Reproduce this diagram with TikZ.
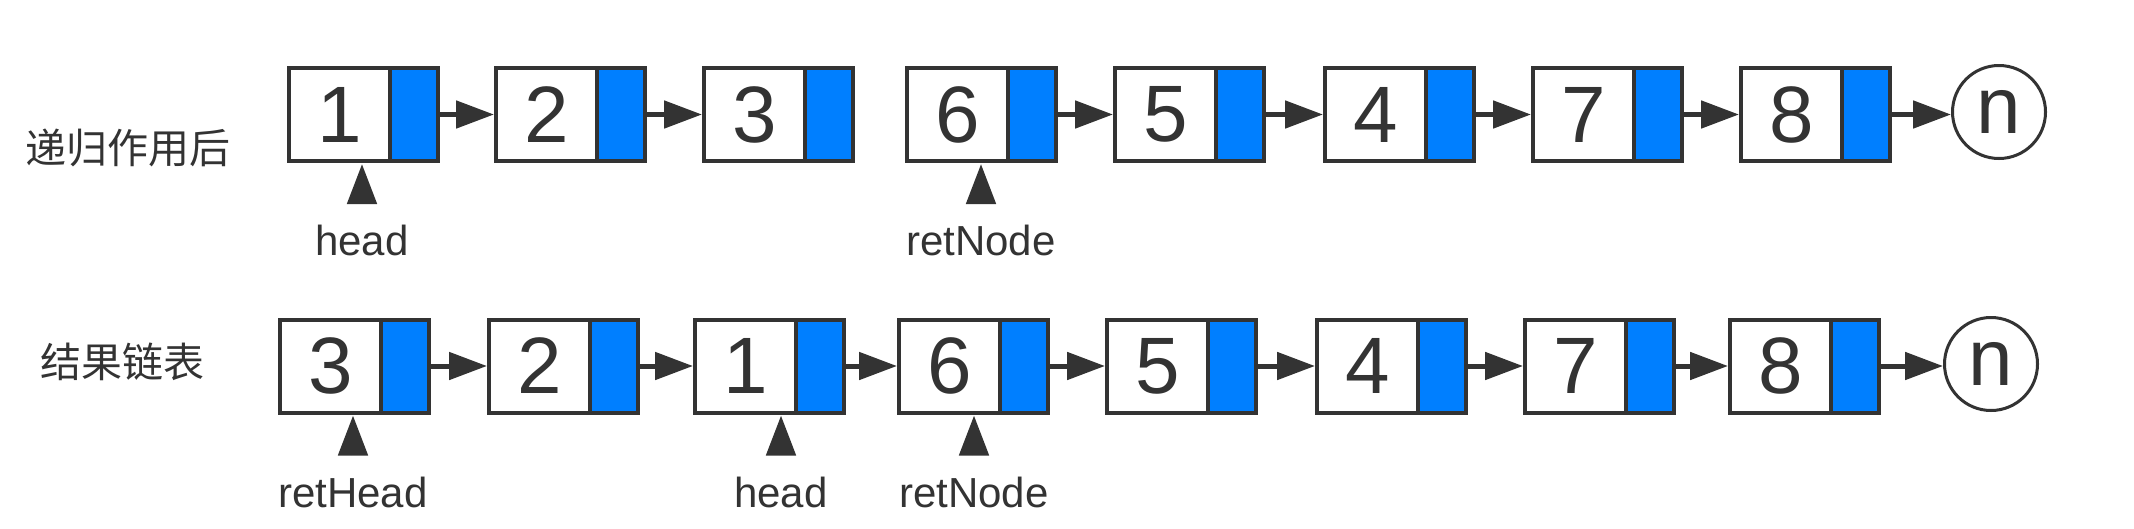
\documentclass[tikz,border=0pt]{standalone}
\usepackage{fontspec}
\setmainfont{Liberation Sans}
\newfontfamily\cjk{Noto Sans CJK SC}
\usetikzlibrary{arrows.meta}
\definecolor{ink}{HTML}{333333}
\definecolor{ptrblue}{HTML}{007FFF}
\tikzset{
  valbox/.style={draw=ink, line width=4pt, fill=white, minimum width=101pt, minimum height=93pt, inner sep=0pt, outer sep=0pt, anchor=west, text=ink, font=\fontsize{80}{80}\selectfont},
  ptrbox/.style={draw=ink, line width=4pt, fill=ptrblue, minimum width=48pt, minimum height=93pt, inner sep=0pt, outer sep=0pt, anchor=west},
  nullnode/.style={draw=ink, line width=3pt, circle, minimum size=93pt, inner sep=0pt, text=ink, font=\fontsize{80}{80}\selectfont},
  link/.style={draw=ink, line width=5pt, -{Triangle[length=38pt,width=27pt]}},
  ptrarrow/.style={draw=ink, line width=5pt, -{Triangle[length=40pt,width=29pt]}},
  tag/.style={text=ink, anchor=base, font=\fontsize{42}{42}\selectfont, inner sep=0pt},
  rowtitle/.style={text=ink, font=\cjk\fontsize{41}{41}\selectfont, inner sep=0pt},
}
\newcommand\ListNode[4]{%
  \node[valbox] (#1) at (#2,#3) {#4};
  \node[ptrbox] (#1p) at (#1.east) {};
}
\begin{document}
\begin{tikzpicture}[x=1pt,y=-1pt]
\fill[white] (0,0) rectangle (2134,528);
\useasboundingbox (0,0) rectangle (2134,528);

% ---- row 1 ----
\node[rowtitle] (t1) at (128,148) {递归作用后};
\ListNode{a1}{289}{114.5}{1}
\ListNode{a2}{496}{114.5}{2}
\ListNode{a3}{704}{114.5}{3}
\ListNode{a6}{907}{114.5}{6}
\ListNode{a5}{1115}{114.5}{5}
\ListNode{a4}{1325}{114.5}{4}
\ListNode{a7}{1533}{114.5}{7}
\ListNode{a8}{1741}{114.5}{8}
\node[nullnode] (an) at (1999,112) {n};
\draw[link, shorten >=2pt] (a1p.east) -- (a2.west);
\draw[link, shorten >=2pt] (a2p.east) -- (a3.west);
\draw[link, shorten >=2pt] (a6p.east) -- (a5.west);
\draw[link, shorten >=2pt] (a5p.east) -- (a4.west);
\draw[link, shorten >=2pt] (a4p.east) -- (a7.west);
\draw[link, shorten >=2pt] (a7p.east) -- (a8.west);
\draw[link] (a8p.east) -- (a8p.east -| an.west);

\node[tag] (ah) at (362,255) {head};
\node[tag] (ar) at (981,255) {retNode};
\coordinate (ahs) at (362,202);
\coordinate (ars) at (981,202);
\draw[ptrarrow, shorten >=3pt] (ahs) -- (ahs |- a1.south);
\draw[ptrarrow, shorten >=3pt] (ars) -- (ars |- a6.south);

% ---- row 2 ----
\node[rowtitle] (t2) at (122,362) {结果链表};
\ListNode{b3}{280}{366}{3}
\ListNode{b2}{489}{366}{2}
\ListNode{b1}{695}{366}{1}
\ListNode{b6}{899}{366}{6}
\ListNode{b5}{1107}{366}{5}
\ListNode{b4}{1317}{366}{4}
\ListNode{b7}{1525}{366}{7}
\ListNode{b8}{1730}{366}{8}
\node[nullnode] (bn) at (1991,364) {n};
\draw[link, shorten >=2pt] (b3p.east) -- (b2.west);
\draw[link, shorten >=2pt] (b2p.east) -- (b1.west);
\draw[link, shorten >=2pt] (b1p.east) -- (b6.west);
\draw[link, shorten >=2pt] (b6p.east) -- (b5.west);
\draw[link, shorten >=2pt] (b5p.east) -- (b4.west);
\draw[link, shorten >=2pt] (b4p.east) -- (b7.west);
\draw[link, shorten >=2pt] (b7p.east) -- (b8.west);
\draw[link] (b8p.east) -- (b8p.east -| bn.west);

\node[tag] (brh) at (353,507) {retHead};
\node[tag] (bh) at (781,507) {head};
\node[tag] (br) at (974,507) {retNode};
\coordinate (brhs) at (353,455);
\coordinate (bhs) at (781,455);
\coordinate (brs) at (974,455);
\draw[ptrarrow, shorten >=3pt] (brhs) -- (brhs |- b3.south);
\draw[ptrarrow, shorten >=3pt] (bhs) -- (bhs |- b1.south);
\draw[ptrarrow, shorten >=3pt] (brs) -- (brs |- b6.south);
\end{tikzpicture}
\end{document}
